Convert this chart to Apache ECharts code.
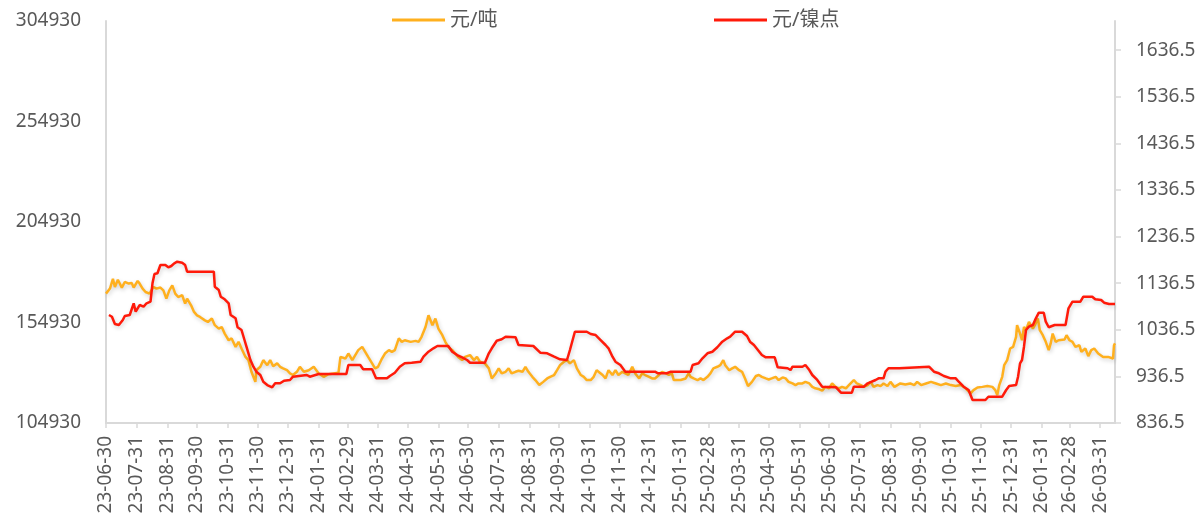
<!DOCTYPE html>
<html>
<head>
<meta charset="utf-8">
<script src="https://cdn.jsdelivr.net/npm/echarts@6/dist/echarts.min.js"></script>
<style>
html,body{margin:0;padding:0;background:#fff;}
#chart{width:1199px;height:516px;}
</style>
</head>
<body>
<div id="chart"></div>
<script>
// ---- data ----
const START_DATE = '2023-06-30';
const END_DATE = '2026-04-15';
const seriesNames = ['元/吨', '元/镍点'];

const tonDates = ['2023-06-30','2023-07-04','2023-07-07','2023-07-09','2023-07-12','2023-07-16','2023-07-19','2023-07-23','2023-07-26','2023-07-28',
'2023-08-01','2023-08-03','2023-08-06','2023-08-09','2023-08-13','2023-08-17','2023-08-20','2023-08-24','2023-08-27','2023-08-30',
'2023-09-02','2023-09-05','2023-09-08','2023-09-11','2023-09-15','2023-09-18','2023-09-20','2023-09-24','2023-09-27','2023-09-30',
'2023-10-03','2023-10-08','2023-10-11','2023-10-15','2023-10-18','2023-10-22','2023-10-25','2023-10-28','2023-11-01','2023-11-04',
'2023-11-08','2023-11-11','2023-11-14','2023-11-18','2023-11-21','2023-11-24','2023-11-28','2023-11-29','2023-12-03','2023-12-06',
'2023-12-10','2023-12-13','2023-12-16','2023-12-20','2023-12-23','2023-12-26','2023-12-30','2024-01-02','2024-01-05','2024-01-09',
'2024-01-12','2024-01-16','2024-01-21','2024-01-26','2024-01-31','2024-02-05','2024-02-10','2024-02-15','2024-02-20','2024-02-22',
'2024-02-27','2024-03-01','2024-03-05','2024-03-08','2024-03-11','2024-03-15','2024-03-18','2024-03-21','2024-03-25','2024-03-28',
'2024-03-31','2024-04-04','2024-04-07','2024-04-11','2024-04-14','2024-04-17','2024-04-21','2024-04-24','2024-04-27','2024-05-03',
'2024-05-08','2024-05-11','2024-05-14','2024-05-18','2024-05-21','2024-05-25','2024-05-28','2024-05-31','2024-06-04','2024-06-07',
'2024-06-10','2024-06-14','2024-06-17','2024-06-20','2024-06-24','2024-06-27','2024-07-02','2024-07-06','2024-07-09','2024-07-12',
'2024-07-17','2024-07-21','2024-07-24','2024-07-28','2024-07-31','2024-08-03','2024-08-07','2024-08-10','2024-08-13','2024-08-17',
'2024-08-20','2024-08-24','2024-08-27','2024-08-30','2024-09-03','2024-09-06','2024-09-10','2024-09-14','2024-09-18','2024-09-21',
'2024-09-25','2024-09-28','2024-10-01','2024-10-05','2024-10-08','2024-10-11','2024-10-15','2024-10-18','2024-10-22','2024-10-25',
'2024-10-28','2024-11-01','2024-11-04','2024-11-07','2024-11-09','2024-11-13','2024-11-16','2024-11-19','2024-11-23','2024-11-26',
'2024-11-29','2024-12-03','2024-12-06','2024-12-09','2024-12-13','2024-12-16','2024-12-20','2024-12-23','2024-12-26','2024-12-30',
'2025-01-02','2025-01-05','2025-01-09','2025-01-12','2025-01-16','2025-01-19','2025-01-22','2025-01-24','2025-01-31','2025-02-05',
'2025-02-08','2025-02-10','2025-02-13','2025-02-17','2025-02-20','2025-02-23','2025-02-27','2025-03-02','2025-03-05','2025-03-09',
'2025-03-12','2025-03-15','2025-03-17','2025-03-21','2025-03-24','2025-03-27','2025-03-31','2025-04-03','2025-04-06','2025-04-09',
'2025-04-13','2025-04-17','2025-04-20','2025-04-23','2025-04-27','2025-04-30','2025-05-03','2025-05-07','2025-05-10','2025-05-14',
'2025-05-17','2025-05-20','2025-05-24','2025-05-27','2025-05-30','2025-06-03','2025-06-06','2025-06-10','2025-06-13','2025-06-16',
'2025-06-20','2025-06-23','2025-06-26','2025-06-30','2025-07-03','2025-07-07','2025-07-10','2025-07-13','2025-07-17','2025-07-20',
'2025-07-25','2025-07-28','2025-08-01','2025-08-04','2025-08-08','2025-08-11','2025-08-14','2025-08-18','2025-08-21','2025-08-24',
'2025-08-28','2025-08-31','2025-09-04','2025-09-07','2025-09-10','2025-09-15','2025-09-20','2025-09-24','2025-09-27','2025-10-01',
'2025-10-06','2025-10-11','2025-10-16','2025-10-21','2025-10-26','2025-10-31','2025-11-05','2025-11-10','2025-11-15','2025-11-20',
'2025-11-23','2025-11-27','2025-12-02','2025-12-07','2025-12-12','2025-12-15','2025-12-17','2025-12-19','2025-12-22','2025-12-24',
'2025-12-27','2025-12-30','2026-01-02','2026-01-05','2026-01-06','2026-01-09','2026-01-11','2026-01-13','2026-01-15','2026-01-18',
'2026-01-22','2026-01-24','2026-01-27','2026-01-29','2026-02-01','2026-02-04','2026-02-07','2026-02-09','2026-02-11','2026-02-14',
'2026-02-17','2026-02-23','2026-02-25','2026-02-28','2026-03-03','2026-03-06','2026-03-10','2026-03-12','2026-03-16','2026-03-19',
'2026-03-22','2026-03-25','2026-03-29','2026-04-03','2026-04-08','2026-04-13','2026-04-14','2026-04-15'];

const tonValues = [169300,171800,176700,172600,176200,172300,175100,174300,174600,172300,
175600,174300,171800,170100,169300,172600,171800,172300,170900,166800,
170900,173400,169300,167600,168500,164300,166800,163500,160200,158500,
157700,156000,155200,156900,153600,151900,152700,149400,146100,147000,
142800,145300,142000,137800,136200,130400,125400,131200,132900,136200,
133700,136200,133200,134600,132900,132100,131200,129600,128800,130400,
132900,130400,131200,132900,129600,127900,129200,129600,129900,137800,
137000,139500,136200,138700,141200,142800,140300,137800,134600,132100,
132900,137000,139500,141200,140300,141200,147000,145300,146100,145300,
145800,145300,147800,152700,158500,153600,156900,151900,148600,145300,
142800,141200,139500,137800,136200,137800,138700,136200,137800,135400,
134600,132100,127100,129600,132100,129600,130400,132100,129600,130400,
130900,130400,132900,130400,127900,126300,123800,125400,127100,127900,
128800,131200,133700,135400,136200,134600,136200,132100,128800,127900,
126300,126300,127900,131200,132100,128800,127100,131200,128800,131200,
128800,130400,129600,128800,132900,129600,127100,129600,128800,127900,
127100,127100,128800,130400,129600,128800,129600,126300,126300,127100,
129600,127900,127100,126300,127100,126300,127900,129600,132100,132900,
133700,136200,133700,131200,132100,132900,131200,130400,127100,123300,
125400,128300,128800,127900,127100,126600,127100,127900,126300,127600,
127100,125400,124600,123800,124600,124600,125400,124600,122900,122200,
121700,121000,122900,122200,124600,122600,122200,122900,122200,123800,
126300,124600,123800,122900,123800,125400,122900,123800,123300,124600,
123300,125400,122900,123800,124600,124100,124600,123800,125400,123800,
124600,125400,124600,123800,124600,123800,123300,123800,122200,119700,
121300,122600,122900,123300,122900,121300,118800,123800,127900,133700,
136200,142000,142800,147800,153600,149400,146100,152700,151100,155200,
151900,153600,156900,151100,148600,145300,141200,144500,149400,145300,
146100,146500,148600,146100,145300,142800,143600,140300,142000,138200,
141200,142000,139500,137800,137800,137000,143600,144500];

const nickelDates = ['2023-07-03','2023-07-06','2023-07-09','2023-07-13','2023-07-17','2023-07-19','2023-07-24','2023-07-28','2023-07-30','2023-08-03',
'2023-08-07','2023-08-10','2023-08-14','2023-08-16','2023-08-18','2023-08-21','2023-08-24','2023-08-29','2023-09-01','2023-09-04',
'2023-09-07','2023-09-10','2023-09-15','2023-09-18','2023-09-20','2023-10-03','2023-10-17','2023-10-18','2023-10-22','2023-10-24',
'2023-10-28','2023-11-01','2023-11-03','2023-11-08','2023-11-10','2023-11-14','2023-11-17','2023-11-19','2023-11-23','2023-11-26',
'2023-11-29','2023-12-03','2023-12-06','2023-12-10','2023-12-15','2023-12-18','2023-12-23','2023-12-27','2024-01-02','2024-01-05',
'2024-01-19','2024-01-22','2024-01-31','2024-02-15','2024-02-28','2024-03-01','2024-03-13','2024-03-16','2024-03-25','2024-03-29',
'2024-04-09','2024-04-12','2024-04-17','2024-04-22','2024-04-27','2024-05-04','2024-05-13','2024-05-16','2024-05-21','2024-05-26',
'2024-05-30','2024-06-10','2024-06-14','2024-06-19','2024-06-24','2024-06-29','2024-07-02','2024-07-17','2024-07-21','2024-07-24',
'2024-07-29','2024-08-03','2024-08-07','2024-08-17','2024-08-20','2024-09-04','2024-09-11','2024-09-18','2024-09-25','2024-10-01',
'2024-10-08','2024-10-11','2024-10-16','2024-10-28','2024-11-01','2024-11-06','2024-11-11','2024-11-16','2024-11-19','2024-11-23',
'2024-11-26','2024-12-01','2024-12-06','2024-12-20','2025-01-05','2025-01-08','2025-01-17','2025-01-21','2025-02-10','2025-02-12',
'2025-02-18','2025-02-22','2025-02-27','2025-03-04','2025-03-09','2025-03-14','2025-03-19','2025-03-22','2025-03-27','2025-04-03',
'2025-04-08','2025-04-11','2025-04-15','2025-04-19','2025-04-23','2025-04-27','2025-05-06','2025-05-09','2025-05-19','2025-05-22',
'2025-05-24','2025-06-03','2025-06-06','2025-06-10','2025-06-13','2025-06-18','2025-06-23','2025-07-07','2025-07-12','2025-07-23',
'2025-07-25','2025-08-04','2025-08-08','2025-08-16','2025-08-19','2025-08-24','2025-08-26','2025-08-29','2025-09-09','2025-09-10',
'2025-10-09','2025-10-14','2025-10-19','2025-10-24','2025-10-31','2025-11-05','2025-11-08','2025-11-13','2025-11-18','2025-11-22',
'2025-12-05','2025-12-08','2025-12-22','2025-12-26','2025-12-29','2026-01-05','2026-01-07','2026-01-09','2026-01-11','2026-01-13',
'2026-01-15','2026-01-18','2026-01-22','2026-01-25','2026-01-28','2026-02-02','2026-02-04','2026-02-07','2026-02-13','2026-02-24',
'2026-02-27','2026-03-03','2026-03-11','2026-03-14','2026-03-23','2026-03-26','2026-04-01','2026-04-04','2026-04-09','2026-04-15'];

const nickelValues = [1068.3,1064.6,1049.0,1046.8,1057.5,1066.1,1068.3,1093.4,1075.4,1089.7,
1086.1,1093.4,1096.8,1136.3,1156.3,1157.8,1175.6,1175.6,1170.6,1173.4,
1179.2,1182.6,1180.5,1175.6,1161.2,1161.2,1161.2,1129.0,1121.9,1107.5,
1102.0,1093.4,1068.3,1061.2,1041.9,1036.1,1014.6,1000.2,971.7,957.3,
946.6,939.5,925.1,918.0,913.1,921.7,921.7,927.3,928.8,935.9,
939.5,935.9,941.7,941.7,941.7,961.0,961.0,951.7,951.7,932.4,
932.4,937.4,944.4,957.3,964.6,965.9,968.0,978.8,989.5,996.8,
1001.7,1001.7,989.5,982.4,977.5,971.7,965.9,965.9,986.1,996.8,
1013.1,1016.1,1021.7,1020.4,1003.9,1001.7,987.4,986.1,978.8,973.2,
971.7,993.2,1032.4,1032.4,1027.5,1025.3,1014.6,1003.9,996.8,978.8,
968.0,961.0,946.6,946.6,946.6,943.2,943.2,946.6,946.6,961.0,
964.6,975.3,986.1,989.5,999.0,1011.0,1018.3,1021.7,1032.4,1032.4,
1023.2,1011.0,1003.9,993.2,982.4,977.5,977.5,956.0,953.9,950.2,
957.3,957.3,961.0,950.2,939.5,928.8,914.4,913.1,901.5,901.5,
914.4,914.4,921.7,928.8,932.4,932.4,946.6,953.9,953.9,957.3,
957.3,946.6,943.2,937.4,932.4,932.4,925.1,914.4,907.3,885.9,
885.9,892.9,892.9,907.3,915.9,918.0,935.9,964.6,971.7,1000.2,
1036.1,1043.2,1046.8,1061.2,1073.2,1073.2,1053.9,1041.9,1046.8,1046.8,
1082.6,1096.8,1096.8,1107.5,1107.5,1102.0,1100.5,1094.7,1091.9,1091.9];

const leftAxis = { min: 104930, max: 304930, step: 50000 };
const rightAxis = { min: 836.5, max: 1699.2, step: 100 };

// ---- build the calendar-day category axis ----
function fmt(d) {
  const m = String(d.getUTCMonth() + 1).padStart(2, '0');
  const day = String(d.getUTCDate()).padStart(2, '0');
  return d.getUTCFullYear() + '-' + m + '-' + day;
}
const categories = [];
const monthEnd = {};
{
  const d = new Date(START_DATE + 'T00:00:00Z');
  const end = new Date(END_DATE + 'T00:00:00Z');
  while (d <= end) {
    const s = fmt(d);
    const next = new Date(d.getTime() + 86400000);
    if (next.getUTCDate() === 1) monthEnd[s] = true;
    categories.push(s);
    d.setUTCDate(d.getUTCDate() + 1);
  }
}
const isMonthEnd = (i, v) => !!monthEnd[categories[i]];

const zip = (a, b) => a.map((x, i) => [x, b[i]]);

const FONT = "'Noto Sans', 'Noto Sans CJK SC', sans-serif";
const TEXT = '#595959';
const AXIS = '#D9D9D9';
const ORANGE = '#FFB01E';
const RED = '#FF1A0A';

const chart = echarts.init(document.getElementById('chart'), null, { renderer: 'canvas' });
chart.setOption({
  animation: false,
  backgroundColor: '#fff',
  textStyle: { fontFamily: FONT },
  legend: [
    {
      data: [seriesNames[0]], left: 387, top: 5, icon: 'rect', itemWidth: 53, itemHeight: 3, itemGap: 0,
      textStyle: { color: TEXT, fontSize: 20, fontFamily: FONT }
    },
    {
      data: [seriesNames[1]], left: 709, top: 5, icon: 'rect', itemWidth: 53, itemHeight: 3, itemGap: 0,
      textStyle: { color: TEXT, fontSize: 20, fontFamily: FONT }
    }
  ],
  grid: { left: 106, right: 84, top: 21, bottom: 93, containLabel: false, outerBoundsMode: 'none' },
  xAxis: {
    type: 'category',
    data: categories,
    boundaryGap: false,
    axisLine: { show: true, lineStyle: { color: AXIS, width: 2 } },
    axisTick: { show: true, length: 5, interval: isMonthEnd, lineStyle: { color: AXIS, width: 1.5 } },
    axisLabel: {
      interval: isMonthEnd, rotate: 90, margin: 13,
      color: TEXT, fontSize: 19, fontFamily: FONT,
      formatter: v => v.slice(2)
    },
    splitLine: { show: false }
  },
  yAxis: [
    {
      type: 'value', position: 'left',
      min: leftAxis.min, max: leftAxis.max, interval: leftAxis.step,
      axisLine: { show: true, lineStyle: { color: AXIS, width: 2 } },
      axisTick: { show: false },
      axisLabel: { color: TEXT, fontSize: 19, fontFamily: FONT, margin: 25, formatter: v => String(v) },
      splitLine: { show: false }
    },
    {
      type: 'value', position: 'right',
      min: rightAxis.min, max: rightAxis.max, interval: rightAxis.step,
      axisLine: { show: true, lineStyle: { color: AXIS, width: 2 } },
      axisTick: { show: true, length: 6, lineStyle: { color: AXIS, width: 1.5 } },
      axisLabel: {
        color: TEXT, fontSize: 19, fontFamily: FONT, margin: 21, showMaxLabel: false,
        formatter: v => v.toFixed(1)
      },
      splitLine: { show: false }
    }
  ],
  series: [
    {
      name: seriesNames[0], type: 'line', yAxisIndex: 0,
      data: zip(tonDates, tonValues),
      showSymbol: false, symbol: 'none',
      itemStyle: { color: ORANGE },
      lineStyle: { color: ORANGE, width: 2.5, shadowColor: 'rgba(0,0,0,0.18)', shadowBlur: 4, shadowOffsetX: 1, shadowOffsetY: 2 }
    },
    {
      name: seriesNames[1], type: 'line', yAxisIndex: 1,
      data: zip(nickelDates, nickelValues),
      showSymbol: false, symbol: 'none',
      itemStyle: { color: RED },
      lineStyle: { color: RED, width: 2.5, shadowColor: 'rgba(0,0,0,0.18)', shadowBlur: 4, shadowOffsetX: 1, shadowOffsetY: 2 }
    }
  ]
});
</script>
</body>
</html>
